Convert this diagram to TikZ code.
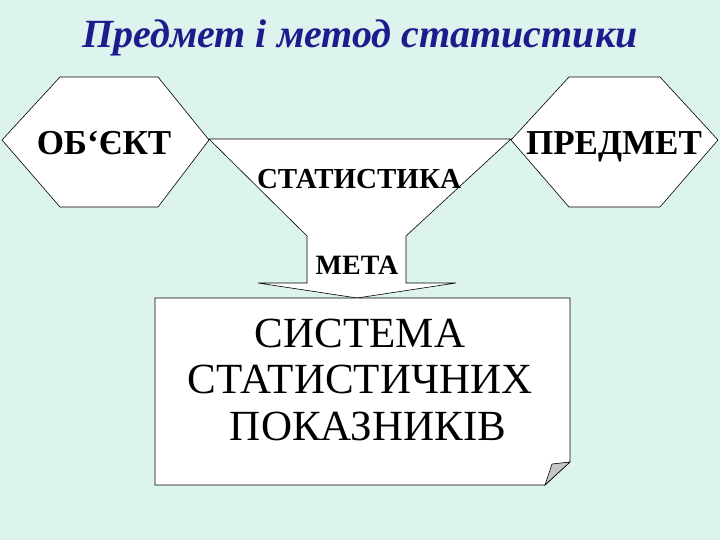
\documentclass[tikz,border=0pt]{standalone}
\usepackage{fontspec}
\setmainfont{Liberation Serif}
\definecolor{bg}{HTML}{DDF3EE}
\definecolor{ttl}{HTML}{1C1C8C}
\begin{document}
\begin{tikzpicture}[x=1pt,y=-1pt,
  shp/.style={draw=black,fill=white,line width=0.6pt},
  lbl/.style={font=\bfseries,inner sep=0pt,anchor=base}]
\fill[bg] (0,0) rectangle (720,540);
\useasboundingbox (0,0) rectangle (720,540);
\node[anchor=base,font=\bfseries\itshape\fontsize{40}{44}\selectfont,text=ttl] (title) at (360,48) {Предмет і метод статистики};
% funnel arrow
\draw[shp] (209,139) -- (511,139) -- (406,236) -- (406,283) -- (456,283) -- (357,298) -- (258,283) -- (307,283) -- (307,236) -- cycle;
% hexagons
\draw[shp] (2,140) -- (60,77) -- (158,77) -- (209,140) -- (158,207) -- (60,207) -- cycle;
\draw[shp] (511,140) -- (569,77) -- (660,77) -- (718,140) -- (660,207) -- (569,207) -- cycle;
% box
\draw[shp] (155,298) -- (570,298) -- (570,462) -- (545,485) -- (155,485) -- cycle;
\draw[fill=gray!45,line width=0.6pt] (570,462) -- (545,485) -- (552,464) -- cycle;
\node[lbl,font=\bfseries\fontsize{35}{38}\selectfont] (obj) at (104,155) {ОБ‘ЄКТ};
\node[lbl,font=\bfseries\fontsize{35}{38}\selectfont] (pred) at (614,155) {ПРЕДМЕТ};
\node[lbl,font=\bfseries\fontsize{29}{30}\selectfont] (stat) at (359,189) {СТАТИСТИКА};
\node[lbl,font=\bfseries\fontsize{28}{30}\selectfont] (meta) at (357,274) {МЕТА};
\node[lbl,font=\fontsize{43}{46}\selectfont] (sys1) at (360,347) {СИСТЕМА};
\node[lbl,font=\fontsize{43}{46}\selectfont] (sys2) at (360,393) {СТАТИСТИЧНИХ};
\node[lbl,font=\fontsize{43}{46}\selectfont] (sys3) at (368,440) {ПОКАЗНИКІВ};
\end{tikzpicture}
\end{document}
